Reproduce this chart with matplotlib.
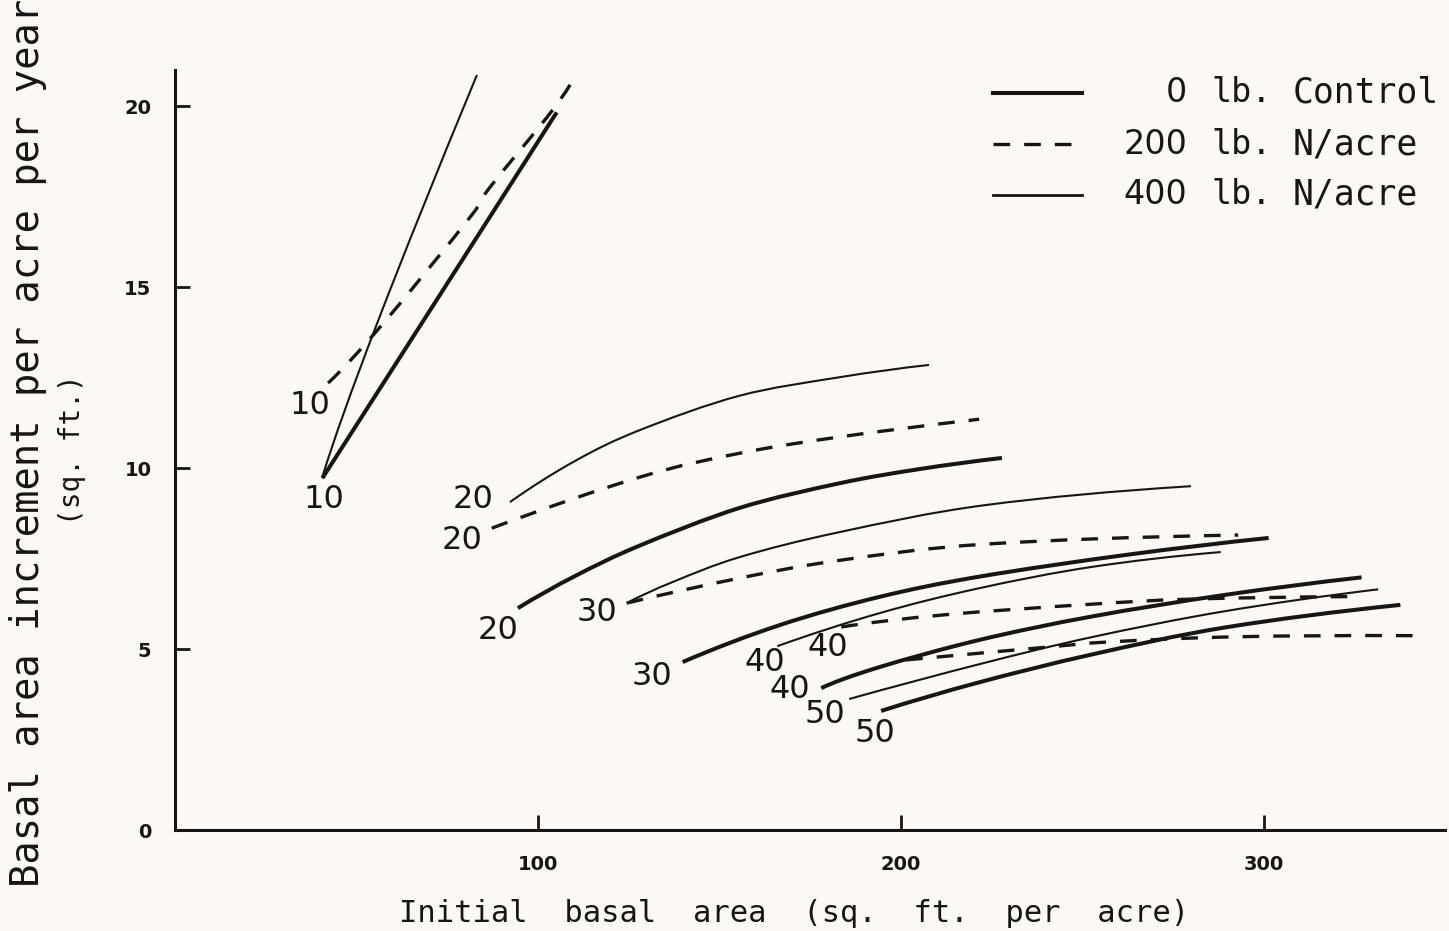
import matplotlib.pyplot as plt
from matplotlib.lines import Line2D
from matplotlib.path import Path
from matplotlib.patches import PathPatch

# Curves: initial basal area (x) vs increment (y)
# 10 sq. ft. group
ctrl_10_x = [40.6, 73.1, 105.2]
ctrl_10_y = [9.72, 14.8, 19.83]
n200_10_x = [42.2, 57.4, 81.3, 86.8, 104.1, 110.1]
n200_10_y = [12.35, 14.0, 16.93, 17.76, 19.9, 20.86]
n400_10_x = [40.6, 55.7, 83.2]
n400_10_y = [9.75, 14.0, 20.86]

# 20 group
ctrl_20_x = [94.5, 110.3, 128.1, 155.6, 183.1, 205.0, 227.9]
ctrl_20_y = [6.13, 7.02, 7.86, 8.9, 9.58, 9.97, 10.28]
n200_20_x = [87.3, 128.1, 155.6, 183.1, 221.6]
n200_20_y = [8.34, 9.75, 10.41, 10.86, 11.35]
n400_20_x = [92.3, 110.3, 128.1, 155.6, 183.1, 207.8]
n400_20_y = [9.06, 10.2, 11.05, 12.0, 12.51, 12.85]

# 30 group
ctrl_30_x = [139.9, 166.6, 194.1, 221.6, 262.0, 301.4]
ctrl_30_y = [4.64, 5.66, 6.44, 7.0, 7.6, 8.07]
n200_30_x = [124.5, 155.6, 183.1, 223.5, 293.0]
n200_30_y = [6.27, 6.96, 7.45, 7.9, 8.15]
n400_30_x = [124.5, 137.1, 155.6, 183.1, 223.5, 280.0]
n400_30_y = [6.27, 6.85, 7.54, 8.23, 8.98, 9.5]

# 40 group
ctrl_40_x = [178.1, 194.1, 221.6, 252.7, 289.6, 327.0]
ctrl_40_y = [3.92, 4.5, 5.25, 5.9, 6.5, 6.98]
n200_40_x = [183.6, 212.5, 252.7, 280.2, 324.8]
n200_40_y = [5.61, 5.95, 6.24, 6.38, 6.45]
n400_40_x = [166.0, 194.1, 221.6, 252.7, 288.2]
n400_40_y = [5.08, 5.99, 6.68, 7.27, 7.68]

# 50 group
ctrl_50_x = [194.6, 221.6, 252.7, 289.6, 337.7]
ctrl_50_y = [3.29, 4.08, 4.85, 5.6, 6.22]
n200_50_x = [201.5, 240.0, 258.0, 293.0, 341.3]
n200_50_y = [4.7, 5.05, 5.2, 5.34, 5.37]
n400_50_x = [185.8, 221.6, 252.7, 289.6, 331.6]
n400_50_y = [3.62, 4.58, 5.33, 6.05, 6.65]

x_ticks = [100, 200, 300]
y_ticks = [0, 5, 10, 15, 20]

# starting-stand labels written next to the curves
curve_labels = ["10", "10", "20", "20", "20", "30", "30", "40", "40", "40", "50", "50"]
curve_label_x = [37.3, 40.9, 82.1, 79.1, 89.0, 116.2, 131.4, 162.5, 179.8, 169.4, 179.0, 193.0]
curve_label_y = [11.74, 9.12, 9.12, 8.01, 5.52, 6.02, 4.25, 4.64, 5.03, 3.87, 3.18, 2.68]

legend_numbers = ["0", "200", "400"]
legend_words = ["Control", "N/acre", "N/acre"]

INK = "#161616"
PAPER = "#fbf9f7"
MONO = "DejaVu Sans Mono"

styles = {
    "ctrl": dict(color=INK, lw=2.9),
    "n200": dict(color=INK, lw=2.4, dashes=(5.0, 4.2)),
    "n400": dict(color=INK, lw=1.5),
}

series = [
    ("ctrl", ctrl_10_x, ctrl_10_y), ("n200", n200_10_x, n200_10_y), ("n400", n400_10_x, n400_10_y),
    ("ctrl", ctrl_20_x, ctrl_20_y), ("n200", n200_20_x, n200_20_y), ("n400", n400_20_x, n400_20_y),
    ("ctrl", ctrl_30_x, ctrl_30_y), ("n200", n200_30_x, n200_30_y), ("n400", n400_30_x, n400_30_y),
    ("ctrl", ctrl_40_x, ctrl_40_y), ("n200", n200_40_x, n200_40_y), ("n400", n400_40_x, n400_40_y),
    ("ctrl", ctrl_50_x, ctrl_50_y), ("n200", n200_50_x, n200_50_y), ("n400", n400_50_x, n400_50_y),
]


def smooth_path(xs, ys):
    # Catmull-Rom through the read points (parabolic ends), as cubic Beziers
    pts = list(zip(xs, ys))
    n = len(pts)
    if n == 2:
        return Path(pts, [Path.MOVETO, Path.LINETO])
    tan = [None] * n
    for i in range(1, n - 1):
        tan[i] = ((pts[i + 1][0] - pts[i - 1][0]) / 2, (pts[i + 1][1] - pts[i - 1][1]) / 2)
    tan[0] = (2 * (pts[1][0] - pts[0][0]) - tan[1][0], 2 * (pts[1][1] - pts[0][1]) - tan[1][1])
    tan[-1] = (2 * (pts[-1][0] - pts[-2][0]) - tan[-2][0],
               2 * (pts[-1][1] - pts[-2][1]) - tan[-2][1])
    verts = [pts[0]]
    codes = [Path.MOVETO]
    for i in range(n - 1):
        p1, p2 = pts[i], pts[i + 1]
        c1 = (p1[0] + tan[i][0] / 3, p1[1] + tan[i][1] / 3)
        c2 = (p2[0] - tan[i + 1][0] / 3, p2[1] - tan[i + 1][1] / 3)
        verts += [c1, c2, p2]
        codes += [Path.CURVE4] * 3
    return Path(verts, codes)


fig = plt.figure(figsize=(14.49, 9.31), dpi=100)
fig.patch.set_facecolor(PAPER)
ax = fig.add_axes([175 / 1449, 1 - 830 / 931, 1270 / 1449, 760 / 931])
ax.set_facecolor(PAPER)

for kind, xs, ys in series:
    st = styles[kind]
    ls = (0, st["dashes"]) if "dashes" in st else "-"
    ax.add_patch(PathPatch(smooth_path(xs, ys), fill=False, edgecolor=st["color"],
                           lw=st["lw"], linestyle=ls, capstyle="butt"))

for text, lx, ly in zip(curve_labels, curve_label_x, curve_label_y):
    ax.text(lx, ly, text, fontsize=23, color=INK, ha="center", va="center")

ax.set_xlim(0, 350)
ax.set_ylim(0, 21)
ax.set_xticks(x_ticks)
ax.set_yticks(y_ticks)
for side in ["top", "right"]:
    ax.spines[side].set_visible(False)
for side in ["left", "bottom"]:
    ax.spines[side].set_linewidth(2.2)
    ax.spines[side].set_color(INK)
ax.tick_params(axis="both", direction="in", length=11, width=2, color=INK,
               labelsize=14, labelcolor=INK)
ax.tick_params(axis="x", pad=18)
ax.tick_params(axis="y", pad=17)
for lab in ax.get_xticklabels() + ax.get_yticklabels():
    lab.set_fontweight("bold")

# hand-drawn style key, top right
key_rows = [0.970, 0.902, 0.836]
for row_y, kind, num, word in zip(key_rows, ["ctrl", "n200", "n400"], legend_numbers, legend_words):
    st = dict(styles[kind])
    if kind == "n400":
        st["lw"] = 2.0
    ax.add_line(Line2D([0.644, 0.714], [row_y, row_y], transform=ax.transAxes, **st))
    ax.text(0.797, row_y, num, transform=ax.transAxes, fontsize=24, color=INK,
            ha="right", va="center")
    ax.text(0.816, row_y, "lb.", transform=ax.transAxes, fontsize=24, color=INK,
            ha="left", va="center", family=MONO)
    ax.text(0.880, row_y, word, transform=ax.transAxes, fontsize=25, color=INK,
            ha="left", va="center", family=MONO)

fig.text(794 / 1449, 1 - 914 / 931, "Initial  basal  area  (sq.  ft.  per  acre)",
         fontsize=22, color=INK, ha="center", va="center", family=MONO)
fig.text(28 / 1449, 1 - 443 / 931, "Basal area increment per acre per year",
         fontsize=28, color=INK, ha="center", va="center", rotation=90, family=MONO)
fig.text(72 / 1449, 1 - 450 / 931, "(sq. ft.)",
         fontsize=20, color=INK, ha="center", va="center", rotation=90, family=MONO)

fig.savefig("out.png", dpi=100, facecolor=PAPER)
